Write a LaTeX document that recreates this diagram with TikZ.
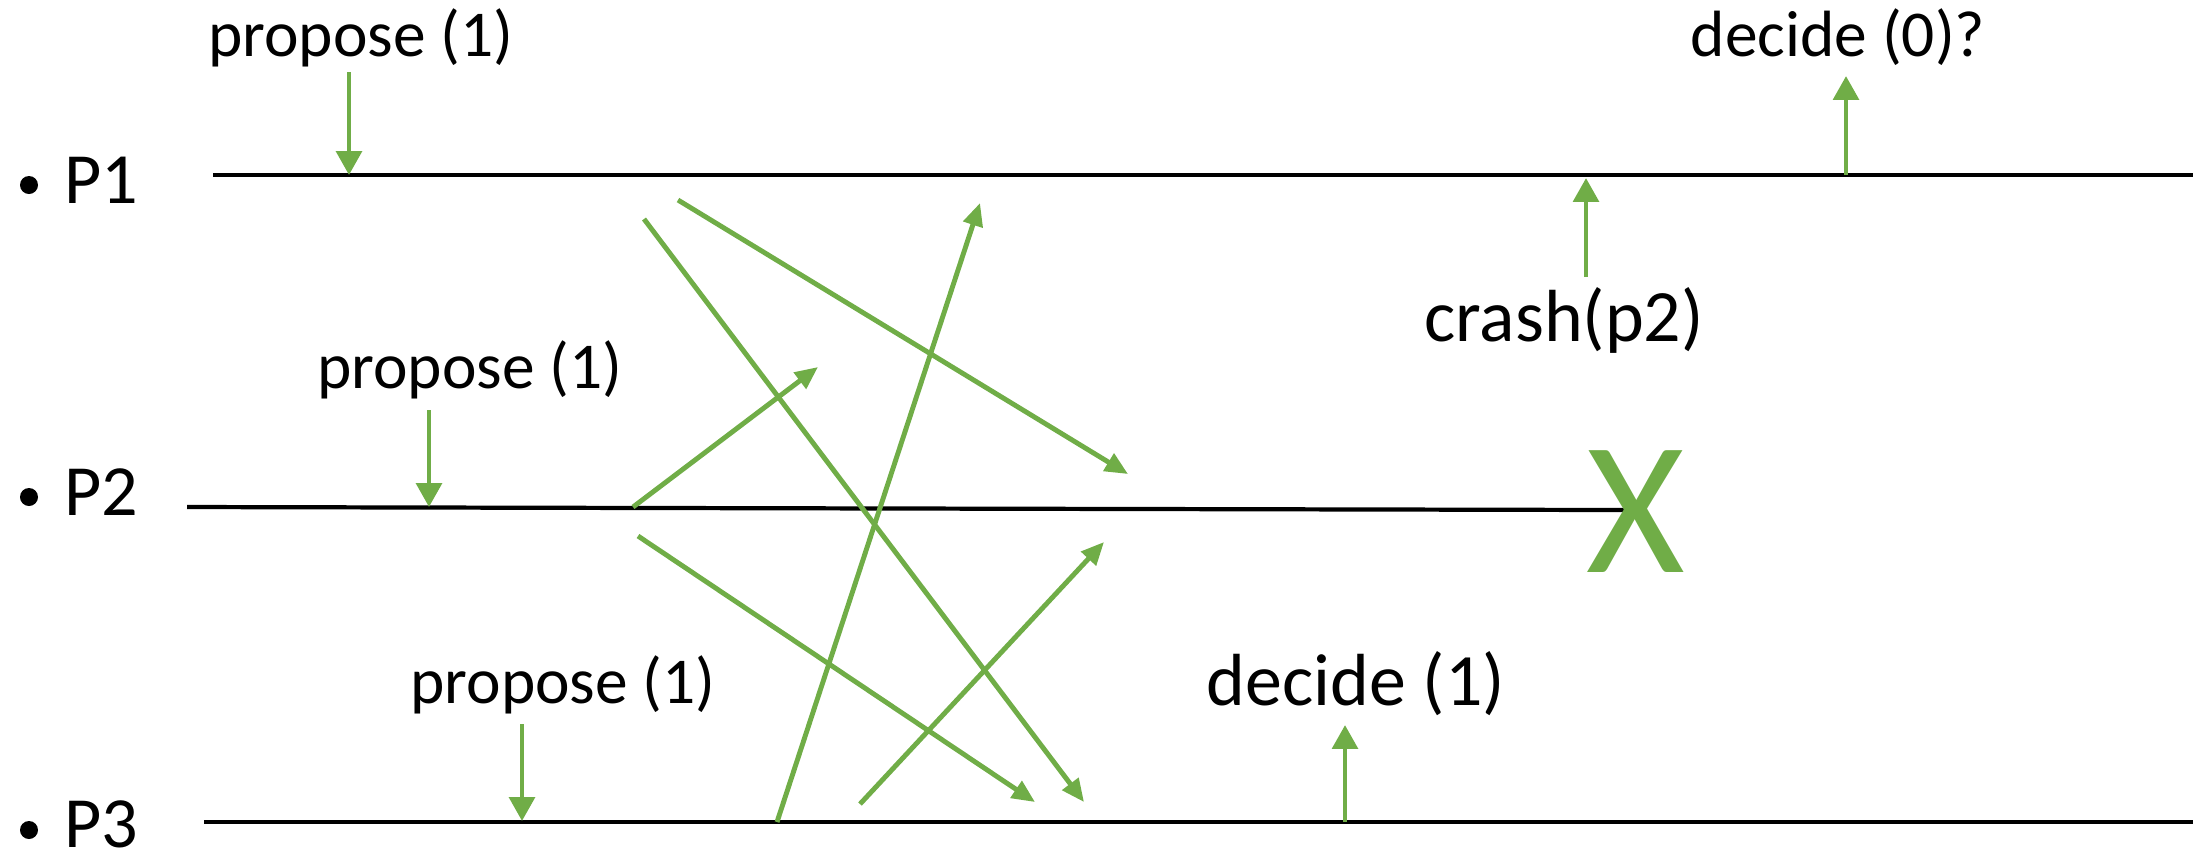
\documentclass[tikz,border=0pt]{standalone}
\usepackage{fontspec}
\setmainfont{Carlito}
\usetikzlibrary{arrows.meta}
\definecolor{grn}{HTML}{70AD47}
\begin{document}
\begin{tikzpicture}[x=0.01cm,y=-0.01cm,
  tl/.style={draw=black,line width=1.2pt},
  msg/.style={draw=grn,line width=1.4pt,-{Triangle[length=6.5pt,width=5.6pt]}},
  ev/.style={draw=grn,line width=1.4pt,-{Triangle[length=6.8pt,width=7.2pt]}},
  lbl/.style={inner sep=0pt,anchor=base,font=\fontsize{18.6}{20}\selectfont},
  lblb/.style={inner sep=0pt,anchor=base,font=\fontsize{21}{24}\selectfont},
  proc/.style={inner sep=0pt,anchor=base west,font=\fontsize{20.5}{24}\selectfont},
  bul/.style={fill=black}
]
\useasboundingbox (0,0) rectangle (2201,856);

% process labels
\fill[bul] (29,185) circle (9);
\node[proc] (P1) at (64,203) {P1};
\fill[bul] (29,497) circle (9);
\node[proc] (P2) at (64,515) {P2};
\fill[bul] (29,830) circle (9);
\node[proc] (P3) at (64,847) {P3};

% time lines
\coordinate (p1s) at (213,175); \coordinate (p1e) at (2193,175);
\coordinate (p2s) at (187,507); \coordinate (p2e) at (1625,510);
\coordinate (p3s) at (204,822); \coordinate (p3e) at (2193,822);
\draw[tl] (p1s) -- (p1e);
\draw[tl] (p2s) -- (p2e);
\draw[tl] (p3s) -- (p3e);

% crash mark
\node[text=grn,inner sep=0pt,font=\fontsize{54}{60}\selectfont] (X) at (1636,512) {X};

% event labels
\node[lbl] (t1) at (361,56) {propose (1)};
\node[lbl] (t2) at (1838,56) {decide (0)?};
\node[lblb] (t3) at (1564,341) {crash(p2)};
\node[lbl] (t4) at (470,388) {propose (1)};
\node[lbl] (t5) at (563,703) {propose (1)};
\node[lblb] (t6) at (1356,705) {decide (1)};

% event arrows
\coordinate (a1s) at (349,72);   \coordinate (a1e) at (349,175);
\coordinate (a2s) at (1846,175); \coordinate (a2e) at (1846,76);
\coordinate (a3s) at (1586,277); \coordinate (a3e) at (1586,178);
\coordinate (a4s) at (429,410);  \coordinate (a4e) at (429,507);
\coordinate (a5s) at (522,724);  \coordinate (a5e) at (522,821);
\coordinate (a6s) at (1345,822); \coordinate (a6e) at (1345,725);
\draw[ev] (a1s) -- (a1e);
\draw[ev] (a2s) -- (a2e);
\draw[ev] (a3s) -- (a3e);
\draw[ev] (a4s) -- (a4e);
\draw[ev] (a5s) -- (a5e);
\draw[ev] (a6s) -- (a6e);

% messages
\coordinate (m1s) at (644,219); \coordinate (m1e) at (1084,802);
\coordinate (m2s) at (678,200); \coordinate (m2e) at (1128,474);
\coordinate (m3s) at (633,507); \coordinate (m3e) at (818,367);
\coordinate (m4s) at (777,822); \coordinate (m4e) at (980,203);
\coordinate (m5s) at (638,536); \coordinate (m5e) at (1035,802);
\coordinate (m6s) at (860,804); \coordinate (m6e) at (1104,542);
\draw[msg] (m1s) -- (m1e);
\draw[msg] (m2s) -- (m2e);
\draw[msg] (m3s) -- (m3e);
\draw[msg] (m4s) -- (m4e);
\draw[msg] (m5s) -- (m5e);
\draw[msg] (m6s) -- (m6e);
\end{tikzpicture}
\end{document}
